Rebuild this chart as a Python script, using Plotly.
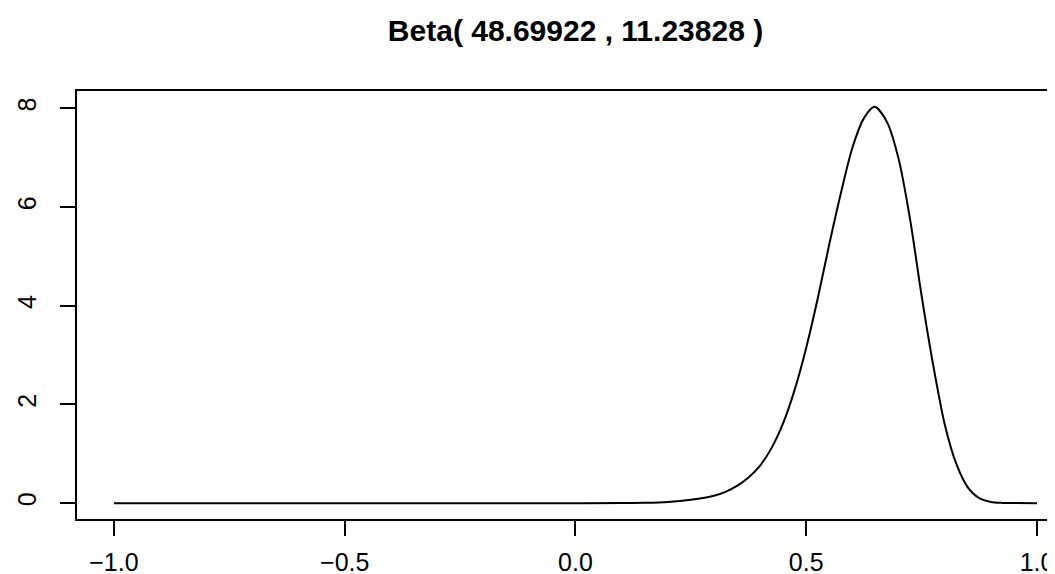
import plotly.graph_objects as go

# ---- data ----
x_vals = [-1.0, -0.5, 0.0, 0.1, 0.15, 0.2, 0.25, 0.3, 0.325, 0.35, 0.375, 0.4,
          0.425, 0.45, 0.475, 0.5, 0.525, 0.55, 0.575, 0.6, 0.625, 0.648,
          0.675, 0.7, 0.725, 0.75, 0.775, 0.8, 0.825, 0.85, 0.875, 0.9,
          0.925, 0.95, 1.0]
density = [0.0, 0.0, 0.0, 0.002, 0.008, 0.025, 0.07, 0.15, 0.23, 0.35, 0.52, 0.76,
           1.12, 1.62, 2.30, 3.15, 4.15, 5.25, 6.28, 7.20, 7.80, 8.03,
           7.72, 6.98, 5.75, 4.20, 2.80, 1.60, 0.80, 0.32, 0.10, 0.025,
           0.005, 0.001, 0.0]

x_ticks = [-1.0, -0.5, 0.0, 0.5, 1.0]
x_tick_labels = ["\u22121.0", "\u22120.5", "0.0", "0.5", "1.0"]
y_ticks = [0, 2, 4, 6, 8]
y_tick_labels = ["0", "2", "4", "6", "8"]
title_text = "Beta( 48.69922 , 11.23828 )"

fig = go.Figure(
    go.Scatter(
        x=x_vals, y=density, mode="lines",
        line=dict(color="black", width=2, shape="spline", smoothing=0.8),
        hoverinfo="skip",
    )
)

fig.update_layout(
    width=1055, height=574,
    margin=dict(l=69, r=0, t=83, b=63),
    paper_bgcolor="white", plot_bgcolor="white",
    showlegend=False,
    font=dict(family="Liberation Sans, Arial, sans-serif", color="black"),
    title=dict(
        text=f"<b>{title_text}</b>",
        x=567.5 / 1055, xanchor="center", xref="container",
        y=1 - 22.5 / 574, yanchor="middle", yref="container",
        font=dict(size=30, family="Liberation Sans, Arial, sans-serif", color="black"),
    ),
)

fig.update_xaxes(
    range=[-1.08, 1.0563],
    showline=True, linecolor="black", linewidth=2, mirror=True,
    ticks="outside", ticklen=15, tickwidth=2, tickcolor="black",
    tickvals=x_ticks, ticktext=x_tick_labels,
    tickfont=dict(size=25), ticklabelstandoff=5,
    showgrid=False, zeroline=False,
)
fig.update_yaxes(
    range=[-0.321, 8.35],
    showline=True, linecolor="black", linewidth=2, mirror=False,
    ticks="outside", ticklen=15, tickwidth=2, tickcolor="black",
    tickvals=y_ticks, ticktext=y_tick_labels, tickangle=-90,
    tickfont=dict(size=25), ticklabelstandoff=14,
    showgrid=False, zeroline=False,
)

fig.write_html("out.html")
